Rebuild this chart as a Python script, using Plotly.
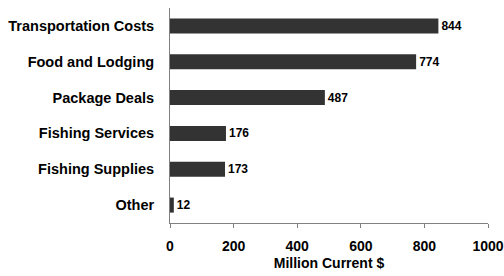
import plotly.graph_objects as go

categories = ["Transportation Costs", "Food and Lodging", "Package Deals",
              "Fishing Services", "Fishing Supplies", "Other"]
values = [844, 774, 487, 176, 173, 12]
x_tick_vals = [0, 200, 400, 600, 800, 1000]
x_title = "Million Current $"

font_family = "Liberation Sans, Arial, sans-serif"

fig = go.Figure(go.Bar(
    y=categories, x=values, orientation="h",
    marker=dict(color="#333333", line=dict(width=0)),
    text=[str(v) for v in values], textposition="outside",
    textfont=dict(family=font_family, size=12, color="#000000", weight="bold"),
    cliponaxis=False,
))

fig.update_layout(
    width=504, height=276,
    margin=dict(l=170, r=16, t=8, b=53, autoexpand=False),
    paper_bgcolor="white", plot_bgcolor="white",
    bargap=0.58,
    showlegend=False,
    font=dict(family=font_family, color="#000000"),
    xaxis=dict(
        range=[0, 1000], tickvals=x_tick_vals, automargin=False,
        showgrid=False, zeroline=False,
        showline=True, linecolor="#808080", linewidth=1,
        ticks="outside", ticklen=4, tickcolor="#808080",
        ticklabelstandoff=6,
        tickfont=dict(family=font_family, size=14, weight="bold"),
        title=dict(text=x_title, font=dict(family=font_family, size=14, weight="bold"), standoff=5),
    ),
    yaxis=dict(
        categoryorder="array", categoryarray=categories, autorange="reversed",
        automargin=False,
        showgrid=False, zeroline=False,
        showline=True, linecolor="#808080", linewidth=1,
        ticks="", ticklabelstandoff=12,
        tickfont=dict(family=font_family, size=14.5, weight="bold"),
    ),
)

fig.write_html(
    "out.html",
    config={"displayModeBar": False},
    post_script="document.body.style.margin='0';document.body.style.overflow='hidden';",
)
